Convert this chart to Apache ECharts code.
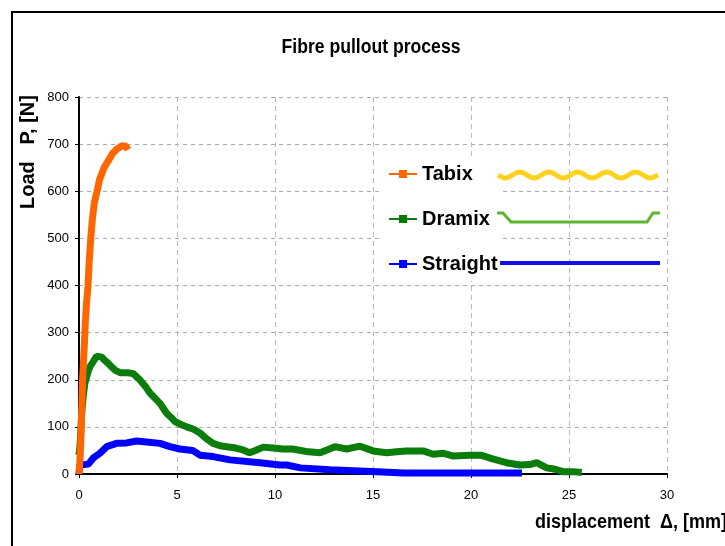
<!DOCTYPE html>
<html>
<head>
<meta charset="utf-8">
<script src="https://cdn.jsdelivr.net/npm/echarts@6/dist/echarts.min.js"></script>
<style>html,body{margin:0;padding:0;background:#fff;}#c{width:725px;height:546px;}</style>
</head>
<body>
<div id="c"></div>
<script>
// ---- data ----
var xTicks = [0, 5, 10, 15, 20, 25, 30];
var yTicks = [0, 100, 200, 300, 400, 500, 600, 700, 800];

var tabixDisp = [0, 0.05, 0.1, 0.15, 0.18, 0.22, 0.28, 0.32, 0.38, 0.46, 0.52, 0.6, 0.68, 0.78, 0.92, 1.05, 1.28, 1.5, 1.71, 1.95, 2.2, 2.4, 2.5];
var tabixLoad = [0, 30, 80, 150, 200, 230, 280, 320, 360, 400, 450, 500, 540, 575, 600, 625, 650, 665, 680, 690, 697, 695, 688];

var dramixDisp = [0, 0.05, 0.14, 0.22, 0.3, 0.45, 0.56, 0.75, 0.9, 1.15, 1.35, 1.58, 1.85, 2.1, 2.5, 2.77, 3.1, 3.4, 3.62, 3.9, 4.13, 4.47, 4.7, 4.9, 5.2, 5.5, 5.85, 6.17, 6.5, 6.84, 7.2, 7.53, 8.0, 8.37, 8.7, 9.0, 9.4, 9.9, 10.4, 10.9, 11.7, 12.3, 13.06, 13.66, 14.34, 15.0, 15.7, 16.2, 16.7, 17.56, 18.07, 18.6, 19.1, 19.95, 20.5, 21.1, 21.8, 22.5, 23.0, 23.35, 23.86, 24.3, 24.7, 25.2, 25.65];
var dramixLoad = [40, 60, 130, 165, 193, 215, 228, 240, 250, 248, 240, 231, 220, 215, 215, 213, 200, 185, 172, 160, 150, 129, 120, 111, 105, 100, 95, 87, 75, 65, 60, 58, 55, 51, 45, 50, 57, 55, 53, 53, 47, 45, 58, 53, 59, 49, 45, 47, 49, 49, 42, 44, 38, 40, 40, 32, 24, 19, 20, 24, 13, 10, 5, 5, 3];

var straightDisp = [0, 0.02, 0.05, 0.48, 0.73, 1.07, 1.41, 1.92, 2.43, 2.94, 3.45, 4.13, 4.64, 5.15, 5.8, 6.17, 6.84, 7.7, 9.23, 10.25, 10.6, 11.3, 12.8, 14.0, 15.2, 16.55, 18.5, 20.5, 22.6];
var straightLoad = [0, 10, 19, 21, 34, 44, 58, 65, 66, 70, 68, 65, 58, 53, 50, 40, 37, 30, 24, 19, 19, 13, 9, 7, 5, 2, 2, 2, 2];

var seriesNames = ['Tabix', 'Dramix', 'Straight'];
var titleText = 'Fibre pullout process';
var xName = 'displacement  \u0394, [mm]';
var yName = 'Load   P, [N]';

function zip(a, b) { return a.map(function (v, i) { return [v, b[i]]; }); }

var FONT = '"Liberation Sans", Arial, sans-serif';

// decorative fibre pictograms beside the legend (not data)
var wave = [];
for (var i = 0; i <= 80; i++) {
  var px = 498 + i * 2;
  wave.push([px, 175 + 3 * Math.sin((px - 498) / 29 * 2 * Math.PI)]);
}

var chart = echarts.init(document.getElementById('c'));
chart.setOption({
  backgroundColor: '#fff',
  animation: false,
  grid: { left: 79, right: 58, top: 97, bottom: 72 },
  legend: {
    orient: 'vertical', left: 383, top: 157,
    data: seriesNames,
    itemWidth: 28, itemHeight: 10, itemGap: 23,
    backgroundColor: '#fff', padding: [6, 4, 6, 5],
    lineStyle: { width: 2 },
    textStyle: { fontFamily: FONT, fontSize: 20, fontWeight: 'bold', color: '#000', lineHeight: 22 }
  },
  xAxis: {
    type: 'value', min: 0, max: 30, interval: 5,
    axisLine: { lineStyle: { color: '#000', width: 2 } },
    axisTick: { show: true, length: 4, lineStyle: { color: '#000' } },
    axisLabel: { color: '#000', fontFamily: FONT, fontSize: 13, margin: 15 },
    splitLine: { show: true, lineStyle: { color: '#bbb', width: 1, type: [5, 4] } }
  },
  yAxis: {
    type: 'value', min: 0, max: 800, interval: 100,
    axisLine: { show: true, lineStyle: { color: '#000', width: 2 } },
    axisTick: { show: true, length: 4, lineStyle: { color: '#000' } },
    axisLabel: { color: '#000', fontFamily: FONT, fontSize: 13, margin: 10 },
    splitLine: { show: true, lineStyle: { color: '#aaa', width: 1, type: [4, 4] } }
  },
  series: [
    { name: 'Tabix', type: 'line', data: zip(tabixDisp, tabixLoad), z: 4,
      showSymbol: false, symbol: 'rect', symbolSize: [3, 8], color: '#ff6600',
      lineStyle: { width: 7, color: '#ff6600' } },
    { name: 'Dramix', type: 'line', data: zip(dramixDisp, dramixLoad), z: 3,
      showSymbol: false, symbol: 'rect', symbolSize: [4, 4], color: '#007a00',
      lineStyle: { width: 7, color: '#0b7d0b' } },
    { name: 'Straight', type: 'line', data: zip(straightDisp, straightLoad), z: 2,
      showSymbol: false, symbol: 'rect', symbolSize: [4, 4], color: '#0000ff',
      lineStyle: { width: 7, color: '#0000ff' } }
  ],
  graphic: [
    { type: 'rect', shape: { x: 12, y: 12, width: 900, height: 700 },
      style: { fill: 'none', stroke: '#000', lineWidth: 2 }, silent: true },
    { type: 'text', x: 371, y: 47, scaleX: 0.88,
      style: { text: titleText, fontFamily: FONT, fontSize: 20, fontWeight: 'bold', fill: '#000', align: 'center', verticalAlign: 'middle' } },
    { type: 'text', x: 28, y: 152, rotation: Math.PI / 2, scaleX: 0.95,
      style: { text: yName, fontFamily: FONT, fontSize: 21, fontWeight: 'bold', fill: '#000', align: 'center', verticalAlign: 'middle' } },
    { type: 'text', x: 535, y: 522, scaleX: 0.9,
      style: { text: xName, fontFamily: FONT, fontSize: 20, fontWeight: 'bold', fill: '#000', align: 'left', verticalAlign: 'middle' } },
    { type: 'polyline', z: 10, shape: { points: wave },
      style: { stroke: '#ffd21f', lineWidth: 5, fill: 'none' } },
    { type: 'polyline', z: 10, shape: { points: [[497, 213], [503, 213], [511, 222], [647, 222], [653, 213], [660, 213]] },
      style: { stroke: '#5fb52f', lineWidth: 3, fill: 'none' } },
    { type: 'line', z: 10, shape: { x1: 500, y1: 263, x2: 660, y2: 263 },
      style: { stroke: '#1010ee', lineWidth: 4 } }
  ]
});
</script>
</body>
</html>
